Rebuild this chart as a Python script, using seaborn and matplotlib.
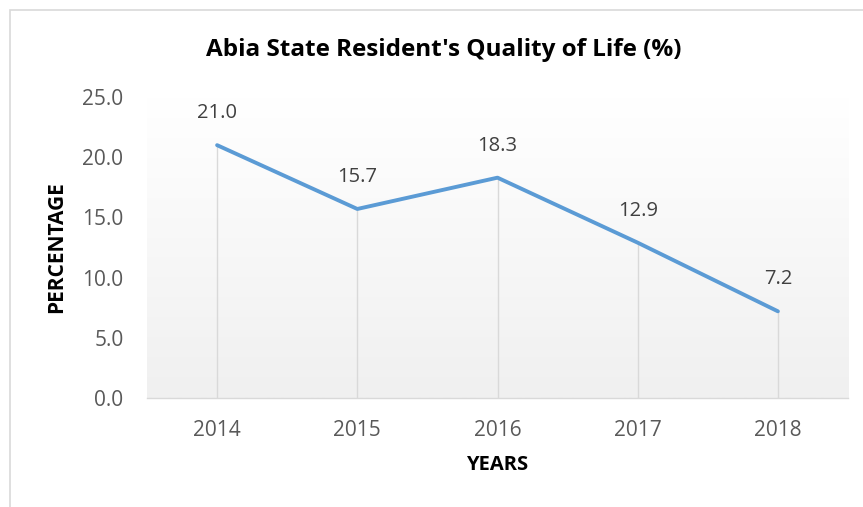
import numpy as np
import pandas as pd
import matplotlib.pyplot as plt
import seaborn as sns
from matplotlib.patches import Rectangle

# datos
years = ['2014', '2015', '2016', '2017', '2018']
quality = [21.0, 15.7, 18.3, 12.9, 7.2]
yticks = [0, 5, 10, 15, 20, 25]

datos = pd.DataFrame({'Year': years, 'Quality': quality})

sns.set_style('white')
plt.rcParams['font.family'] = ['Open Sans', 'DejaVu Sans']

fig = plt.figure(figsize=(8.63, 5.07), dpi=100)
ax = fig.add_axes([147 / 863, 1 - 398 / 507, (848 - 147) / 863, (398 - 97) / 507])

# borde del grafico
fig.patches.append(Rectangle((10 / 863, -0.1), 1.2, 1 - 10 / 507 + 0.1, transform=fig.transFigure,
                             fill=False, edgecolor='#d9d9d9', linewidth=1.2))

# fondo degradado del area de trazado
grad = np.linspace(1, 0, 256).reshape(-1, 1)
ax.imshow(grad, extent=[0, 1, 0, 1], transform=ax.transAxes, aspect='auto',
          cmap=sns.blend_palette(['#f0f0f0', '#ffffff'], as_cmap=True), zorder=0)

sns.lineplot(data=datos, x='Year', y='Quality', ax=ax, color='#5b9bd5', linewidth=2.8,
             solid_capstyle='round', zorder=3)

pos = np.arange(len(years))
ax.vlines(pos, 0, quality, color='#d9d9d9', linewidth=1.0, zorder=2)

for x, v in zip(pos, quality):
    ax.annotate(f'{v:.1f}', (x, v), xytext=(0, 23), textcoords='offset points',
                ha='center', va='center', fontsize=14.5, color='#404040')

ax.set_xlim(-0.5, len(years) - 0.5)
ax.set_ylim(0, 25)
ax.set_yticks(yticks)
ax.set_yticklabels([f'{t:.1f}' for t in yticks])
ax.tick_params(axis='both', length=0, labelsize=15, labelcolor='#595959')
ax.tick_params(axis='y', pad=17)
ax.tick_params(axis='x', pad=16)

for s in ['top', 'right', 'left']:
    ax.spines[s].set_visible(False)
ax.spines['bottom'].set_color('#d9d9d9')
ax.spines['bottom'].set_linewidth(1.0)
ax.set_xlabel('')
ax.set_ylabel('')

fig.text(497 / 863, 1 - 465 / 507, 'YEARS', ha='center', va='center',
         fontsize=14.5, fontweight='bold', color='black')
fig.text(57 / 863, 1 - 247 / 507, 'PERCENTAGE', ha='center', va='center', rotation=90,
         fontsize=15, fontweight='bold', color='black')
fig.text(444 / 863, 1 - 50 / 507, "Abia State Resident's Quality of Life (%)",
         ha='center', va='center', fontsize=17.5, fontweight='bold', color='black')

fig.savefig('out.png', dpi=100)
